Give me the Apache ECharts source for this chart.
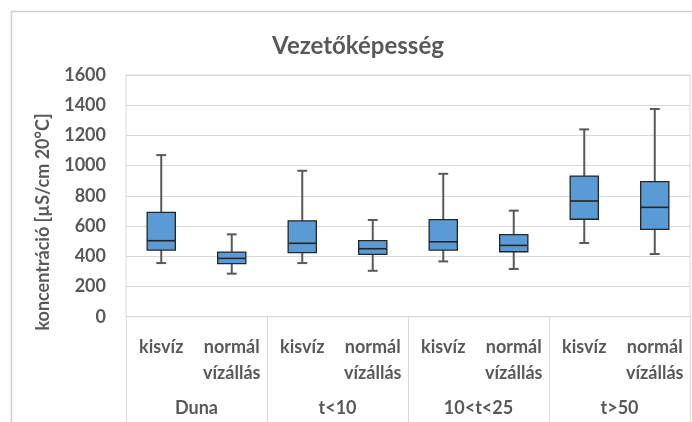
<!DOCTYPE html>
<html>
<head>
<meta charset="utf-8">
<script src="https://cdn.jsdelivr.net/npm/echarts@6/dist/echarts.min.js"></script>
<style>
  html, body { margin: 0; padding: 0; background: #fff; }
  #chart { width: 692px; height: 422px; }
</style>
</head>
<body>
<div id="chart"></div>
<script>
// Conductivity box plots per station group and water level
const categories = ['kisvíz', 'normál\nvízállás', 'kisvíz', 'normál\nvízállás',
                    'kisvíz', 'normál\nvízállás', 'kisvíz', 'normál\nvízállás'];
const groups = ['Duna', 't<10', '10<t<25', 't>50'];
const yTicks = [0, 200, 400, 600, 800, 1000, 1200, 1400, 1600];

const minVals    = [355, 285, 355, 304, 366, 316, 488, 415];
const q1Vals     = [441, 351, 424, 413, 441, 430, 645, 578];
const medianVals = [503, 386, 486, 450, 496, 472, 766, 724];
const q3Vals     = [691, 428, 635, 503, 642, 543, 931, 894];
const maxVals    = [1070, 545, 966, 640, 946, 702, 1240, 1375];

const FONT = 'Lato';
const GREY_TEXT = '#595959';
const GRID_LINE = '#D9D9D9';

const boxData = categories.map((c, i) =>
  [i, minVals[i], q1Vals[i], medianVals[i], q3Vals[i], maxVals[i]]);

function renderBox(params, api) {
  const i = api.value(0);
  const band = api.size([1, 0])[0];
  const halfBox = band * 0.2;
  const halfCap = band * 0.07;
  const pMin = api.coord([i, api.value(1)]);
  const pQ1 = api.coord([i, api.value(2)]);
  const pMed = api.coord([i, api.value(3)]);
  const pQ3 = api.coord([i, api.value(4)]);
  const pMax = api.coord([i, api.value(5)]);
  const x = pMed[0];
  const whisker = { stroke: '#595959', lineWidth: 2 };
  return {
    type: 'group',
    children: [
      { type: 'line', shape: { x1: x, y1: pQ3[1], x2: x, y2: pMax[1] }, style: whisker },
      { type: 'line', shape: { x1: x - halfCap, y1: pMax[1], x2: x + halfCap, y2: pMax[1] }, style: whisker },
      { type: 'line', shape: { x1: x, y1: pQ1[1], x2: x, y2: pMin[1] }, style: whisker },
      { type: 'line', shape: { x1: x - halfCap, y1: pMin[1], x2: x + halfCap, y2: pMin[1] }, style: whisker },
      { type: 'rect',
        shape: { x: x - halfBox, y: pQ3[1], width: halfBox * 2, height: pQ1[1] - pQ3[1] },
        style: { fill: '#5B9BD5', stroke: '#262626', lineWidth: 1.3 } },
      { type: 'line', shape: { x1: x - halfBox, y1: pMed[1], x2: x + halfBox, y2: pMed[1] },
        style: { stroke: '#262626', lineWidth: 1.6 } }
    ]
  };
}

const chart = echarts.init(document.getElementById('chart'), null, { renderer: 'canvas' });
chart.setOption({
  animation: false,
  backgroundColor: '#ffffff',
  grid: {
    left: 126, right: 2, top: 75, bottom: 105.3,
    show: true, borderColor: GRID_LINE, borderWidth: 1
  },
  graphic: [
    { type: 'rect', shape: { x: 11.5, y: 11.5, width: 720, height: 440 },
      style: { fill: 'none', stroke: '#D0D0D0', lineWidth: 1.5 }, z: -1 },
    { type: 'text', x: 358, y: 46,
      style: { text: 'Vezetőképesség', fill: GREY_TEXT, font: 'bold 24px ' + FONT,
               align: 'center', verticalAlign: 'middle' } },
    { type: 'text', x: 43, y: 222, rotation: Math.PI / 2,
      style: { text: 'koncentráció [µS/cm 20°C]', fill: GREY_TEXT, font: 'bold 18px ' + FONT,
               align: 'center', verticalAlign: 'middle' } }
  ],
  xAxis: [
    {
      type: 'category', data: categories, gridIndex: 0, position: 'bottom',
      axisLine: { show: true, lineStyle: { color: GRID_LINE } },
      axisTick: { show: false },
      axisLabel: {
        interval: 0, margin: 17, color: GREY_TEXT, fontFamily: FONT,
        fontWeight: 'bold', fontSize: 18, lineHeight: 26
      },
      splitLine: { show: false }
    },
    {
      type: 'category', data: groups, gridIndex: 0, position: 'bottom',
      axisLine: { show: false },
      axisTick: { show: true, length: 106, inside: false, lineStyle: { color: GRID_LINE } },
      axisLabel: {
        interval: 0, margin: 82, color: GREY_TEXT, fontFamily: FONT,
        fontWeight: 'bold', fontSize: 18
      },
      splitLine: { show: false }
    }
  ],
  yAxis: {
    type: 'value', min: yTicks[0], max: yTicks[yTicks.length - 1],
    interval: yTicks[1] - yTicks[0],
    axisLine: { show: false }, axisTick: { show: false },
    axisLabel: {
      margin: 20, color: GREY_TEXT, fontFamily: FONT, fontWeight: 'bold', fontSize: 18,
      formatter: (v) => String(v)
    },
    splitLine: { show: true, lineStyle: { color: GRID_LINE, width: 1 } }
  },
  series: [{
    type: 'custom', xAxisIndex: 0, yAxisIndex: 0,
    renderItem: renderBox,
    encode: { x: 0, y: [1, 2, 3, 4, 5] },
    data: boxData,
    z: 3
  }]
});
</script>
</body>
</html>
